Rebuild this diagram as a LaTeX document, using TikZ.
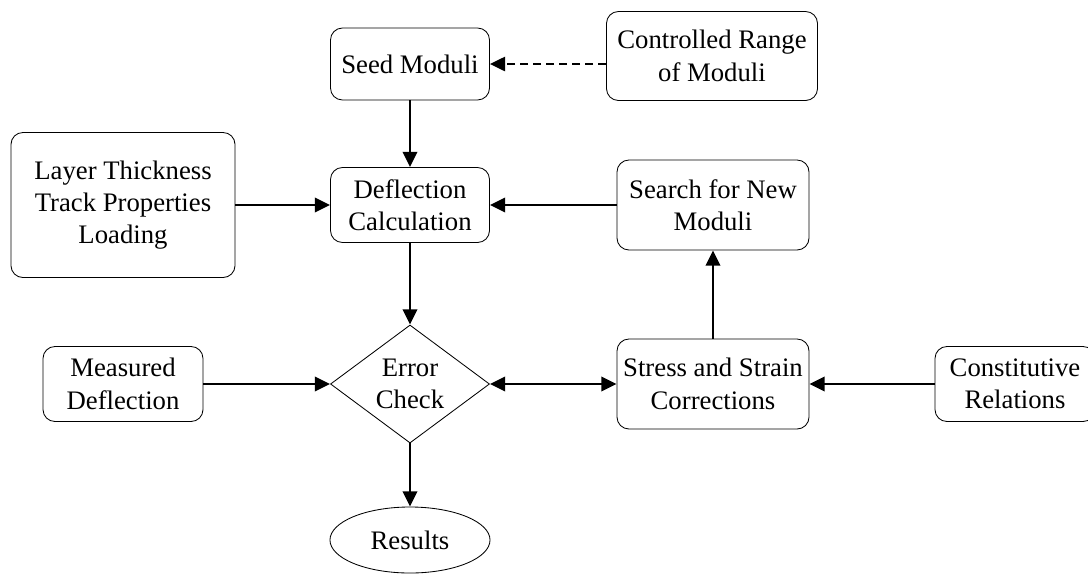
\documentclass[tikz,border=0pt]{standalone}
\usepackage{fontspec}
\setmainfont{Liberation Serif}
\usetikzlibrary{arrows.meta,shapes.geometric}

\begin{document}
\begin{tikzpicture}[x=0.025cm, y=-0.025cm,
    >={Triangle[length=0.38cm, width=0.36cm]},
    box/.style={draw, line width=0.6pt, rounded corners=0.3cm, align=center, inner sep=0pt, font=\fontsize{19}{23}\selectfont},
    link/.style={line width=1.6pt, ->}]
        \useasboundingbox (0,0) rectangle (1088,575);

        % top row
        \node[box, minimum width=3.975cm, minimum height=1.8cm] (seed) at (410,64) {Seed Moduli};
        \node[box, minimum width=5.275cm, minimum height=2.225cm] (range) at (712,56) {Controlled Range\\of Moduli};
        % middle row
        \node[box, minimum width=5.6cm, minimum height=3.625cm] (layer) at (123,205) {Layer Thickness\\Track Properties\\Loading};
        \node[box, minimum width=3.975cm, minimum height=1.875cm] (defl) at (410,205) {Deflection\\Calculation};
        \node[box, minimum width=4.8cm, minimum height=2.25cm] (search) at (713,205) {Search for New\\Moduli};
        % check row
        \node[box, minimum width=4cm, minimum height=1.875cm] (meas) at (123,384) {Measured\\Deflection};
        \node[diamond, draw, line width=0.6pt, aspect=1.35, inner sep=0pt, align=center, minimum width=3.975cm, minimum height=2.95cm, font=\fontsize{19}{23}\selectfont] (check) at (410,384) {Error\\Check};
        \node[box, minimum width=4.8cm, minimum height=2.25cm] (stress) at (713,384) {Stress and Strain\\Corrections};
        \node[box, minimum width=4cm, minimum height=1.875cm] (const) at (1015,384) {Constitutive\\Relations};
        % output
        \node[ellipse, draw, line width=0.6pt, inner sep=0pt, minimum width=4cm, minimum height=1.65cm, font=\fontsize{19}{23}\selectfont] (res) at (410,540) {Results};

        % arrows
        \draw[link, line width=1.2pt, dash pattern=on 0.2cm off 0.125cm] (range.west |- seed.east) -- (seed.east);
        \draw[link] (seed) -- (defl);
        \draw[link] (layer) -- (defl);
        \draw[link] (search) -- (defl);
        \draw[link] (defl) -- (check);
        \draw[link] (meas) -- (check);
        \draw[link, <->] (check) -- (stress);
        \draw[link] (stress) -- (search);
        \draw[link] (const) -- (stress);
        \draw[link] (check) -- (res);
\end{tikzpicture}
\end{document}
